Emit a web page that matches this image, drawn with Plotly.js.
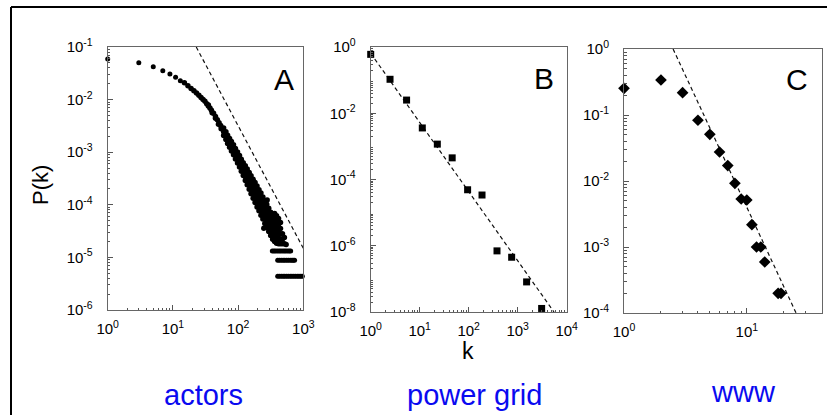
<!DOCTYPE html>
<html><head><meta charset="utf-8">
<script src="https://cdn.plot.ly/plotly-3.0.1.min.js"></script>
<style>html,body{margin:0;padding:0;background:#fff}#chart{width:827px;height:415px}</style>
</head><body><div id="chart"></div><script>
// ---------- Panel A : actors ----------
const actorsHeadK = [1,3,5,7,9,11,13];
const actorsHeadP = [0.0592,0.0503,0.0422,0.0354,0.0307,0.0266,0.0229];
const actorsBandK = [15,17,19,21,23,25,27,29,31,33,35,37,39,42,45,48,51,54,57];
const actorsBandP = [0.0208,0.01832,0.01629,0.01472,0.0134,0.01213,0.01102,0.01009,0.00927,0.00836,0.00757,0.00689,0.00628,0.00553,0.00478,0.00415,0.00364,0.00321,0.00281];
const actorsThickK = [35,40,45,50,55,
  60,60,60,65,65,65,69,69,69,74,74,74,79,79,79,85,85,85,91,91,91,98,98,98,105,105,105,112,112,112,120,120,120,
  129,129,129,129,129,138,138,138,138,138,148,148,148,148,148,158,158,158,158,158,170,170,170,170,170,
  182,182,182,182,182,195,195,195,195,195,209,209,209,209,209,224,224,224,224,224,240,240,240,240,240,
  257,257,257,257,257,275,275,275,275,275,295,295,295,295,295,316,316,316,316,316,339,339,339,339,339,
  363,363,363,363,363,389,389,389,389,389,417,417,417,417,417,447,447,447,447,479,479,479,513,513,
  248,279,363,389,417,447,545];
const actorsThickP = [0.0079,0.0056,0.0044,0.0034,0.0028,
  2.88e-3,2.45e-3,2.08e-3,2.46e-3,2.07e-3,1.74e-3,2.11e-3,1.75e-3,1.46e-3,1.83e-3,1.51e-3,1.24e-3,1.59e-3,1.29e-3,1.05e-3,
  1.38e-3,1.11e-3,8.93e-4,1.18e-3,9.4e-4,7.46e-4,1.01e-3,7.94e-4,6.24e-4,8.65e-4,6.71e-4,5.21e-4,7.38e-4,5.66e-4,4.35e-4,6.3e-4,4.78e-4,3.62e-4,
  5.55e-4,4.72e-4,4.02e-4,3.42e-4,2.91e-4,4.79e-4,4.03e-4,3.39e-4,2.85e-4,2.4e-4,4.12e-4,3.43e-4,2.85e-4,2.37e-4,1.97e-4,
  3.55e-4,2.92e-4,2.4e-4,1.97e-4,1.62e-4,3.05e-4,2.48e-4,2.02e-4,1.64e-4,1.33e-4,
  2.64e-4,2.12e-4,1.7e-4,1.37e-4,1.1e-4,2.28e-4,1.81e-4,1.44e-4,1.14e-4,9.08e-5,1.93e-4,1.53e-4,1.22e-4,9.66e-5,7.67e-5,
  1.67e-4,1.31e-4,1.03e-4,8.09e-5,6.35e-5,1.41e-4,1.1e-4,8.67e-5,6.81e-5,5.35e-5,
  1.21e-4,9.42e-5,7.31e-5,5.68e-5,4.41e-5,1.02e-4,7.93e-5,6.15e-5,4.78e-5,3.71e-5,8.59e-5,6.67e-5,5.18e-5,4.02e-5,3.12e-5,
  7.23e-5,5.61e-5,4.36e-5,3.38e-5,2.62e-5,6.08e-5,4.72e-5,3.66e-5,2.84e-5,2.21e-5,
  5.13e-5,4.07e-5,3.16e-5,2.51e-5,2.0e-5,4.68e-5,3.72e-5,2.95e-5,2.34e-5,1.86e-5,4.27e-5,3.39e-5,2.69e-5,2.24e-5,1.82e-5,
  3.55e-5,2.82e-5,2.24e-5,1.82e-5,2.82e-5,2.24e-5,1.82e-5,2.4e-5,1.82e-5,
  3.6e-5,1.23e-4,6.8e-5,6.2e-5,5.5e-5,4.6e-5,1.76e-5];
const actorsRowK = [335,355,375,400,425,450,480,510,540,575,610,640,
  405,430,460,490,520,555,590,630,670,700,735,
  405,430,460,490,520,555,590,630,670,715,760,810,860,915,965];
const actorsRowP = [1.32e-5,1.32e-5,1.32e-5,1.32e-5,1.32e-5,1.32e-5,1.32e-5,1.32e-5,1.32e-5,1.32e-5,1.32e-5,1.32e-5,
  8.8e-6,8.8e-6,8.8e-6,8.8e-6,8.8e-6,8.8e-6,8.8e-6,8.8e-6,8.8e-6,8.8e-6,8.8e-6,
  4.4e-6,4.4e-6,4.4e-6,4.4e-6,4.4e-6,4.4e-6,4.4e-6,4.4e-6,4.4e-6,4.4e-6,4.4e-6,4.4e-6,4.4e-6,4.4e-6,4.4e-6];
const actorsFitK = [22.8, 1000];
const actorsFitP = [0.1, 1.49e-5];

// ---------- Panel B : power grid ----------
const gridK = [1,2.48,5.4,11.3,22.9,46,95,187,378,753,1520,3080];
const gridP = [0.60,0.106,0.025,0.0036,0.00117,0.00045,4.9e-5,3.4e-5,7.0e-7,4.5e-7,8.1e-8,1.28e-8];
const gridFitK = [1, 5500];
const gridFitP = [0.645, 1e-8];

// ---------- Panel C : www ----------
const wwwK = [1,2,3,4,5,6,7,8,9,10,11,12,13,14,18,19];
const wwwP = [0.254,0.339,0.218,0.0832,0.051,0.0275,0.0171,0.00923,0.00534,0.00515,0.00218,0.001,0.001,0.000593,0.000199,0.000199];
const wwwFitK = [2.51, 25.2];
const wwwFitP = [1, 1e-4];

// tick labels
const xTicksA = [1,10,100,1000], xTextA = ['10<sup>0</sup>','10<sup>1</sup>','10<sup>2</sup>','10<sup>3</sup>'];
const yTicksA = [1e-6,1e-5,1e-4,1e-3,1e-2,1e-1], yTextA = ['10<sup>-6</sup>','10<sup>-5</sup>','10<sup>-4</sup>','10<sup>-3</sup>','10<sup>-2</sup>','10<sup>-1</sup>'];
const xTicksB = [1,10,100,1000,10000], xTextB = ['10<sup>0</sup>','10<sup>1</sup>','10<sup>2</sup>','10<sup>3</sup>','10<sup>4</sup>'];
const yTicksB = [1e-8,1e-6,1e-4,1e-2,1], yTextB = ['10<sup>-8</sup>','10<sup>-6</sup>','10<sup>-4</sup>','10<sup>-2</sup>','10<sup>0</sup>'];
const xTicksC = [1,10], xTextC = ['10<sup>0</sup>','10<sup>1</sup>'];
const yTicksC = [1e-4,1e-3,1e-2,1e-1,1], yTextC = ['10<sup>-4</sup>','10<sup>-3</sup>','10<sup>-2</sup>','10<sup>-1</sup>','10<sup>0</sup>'];

function minorVals(lo, hi) { // minor tick positions 2..9 in each decade
  const v = [];
  for (let e = lo; e < hi; e++) for (let m = 2; m <= 9; m++) v.push(m * Math.pow(10, e));
  return v;
}

const W = 827, H = 415;
const px = x => x / W, py = y => 1 - y / H;
const tickFont = {family: 'Liberation Sans, Arial, sans-serif', size: 15, color: '#000'};

function axis(dom, range, tv, tt, minor, isY) {
  return {
    type: 'log', domain: dom, range: range, autorange: false,
    showline: true, mirror: true, linecolor: '#666', linewidth: 1,
    ticks: 'inside', ticklen: 5, tickcolor: '#555', tickwidth: 1,
    showgrid: false, zeroline: false, fixedrange: true,
    tickmode: 'array', tickvals: tv, ticktext: tt, tickfont: tickFont,
    ticklabelstandoff: isY ? 11 : 5,
    minor: {tickmode: 'array', tickvals: minor, ticks: 'inside', ticklen: 2.5, tickcolor: '#555', tickwidth: 1, showgrid: false}
  };
}

const mk = (x, y, xa, ya, sym, size) => ({
  x: x, y: y, xaxis: xa, yaxis: ya, type: 'scatter', mode: 'markers', cliponaxis: false,
  marker: {symbol: sym, size: size, color: '#000', line: {width: 0}}, hoverinfo: 'skip'
});
const fit = (x, y, xa, ya) => ({
  x: x, y: y, xaxis: xa, yaxis: ya, type: 'scatter', mode: 'lines',
  line: {color: '#111', width: 1.2, dash: '4px,3px'}, hoverinfo: 'skip'
});

const data = [
  fit(actorsFitK, actorsFitP, 'x', 'y'),
  mk(actorsHeadK, actorsHeadP, 'x', 'y', 'circle', 5),
  mk(actorsBandK, actorsBandP, 'x', 'y', 'circle', 5.5),
  mk(actorsThickK, actorsThickP, 'x', 'y', 'circle', 5.5),
  mk(actorsRowK, actorsRowP, 'x', 'y', 'circle', 5),
  fit(gridFitK, gridFitP, 'x2', 'y2'),
  mk(gridK, gridP, 'x2', 'y2', 'square', 7),
  fit(wwwFitK, wwwFitP, 'x3', 'y3'),
  mk(wwwK, wwwP, 'x3', 'y3', 'diamond', 9)
];

const ann = (t, x, y, size, color, extra) => Object.assign({
  text: t, x: px(x), y: py(y), xref: 'paper', yref: 'paper', showarrow: false,
  xanchor: 'center', yanchor: 'middle',
  font: {family: 'Liberation Sans, Arial, sans-serif', size: size, color: color}
}, extra || {});

const layout = {
  width: W, height: H, margin: {l: 0, r: 0, t: 0, b: 0},
  paper_bgcolor: '#fff', plot_bgcolor: '#fff', showlegend: false,
  xaxis: axis([px(107.7), px(303.3)], [0, 3], xTicksA, xTextA, minorVals(0, 3), false),
  yaxis: Object.assign(axis([py(310), py(47)], [-6, -1], yTicksA, yTextA, minorVals(-6, -1), true), {anchor: 'x'}),
  xaxis2: Object.assign(axis([px(370.7), px(566.7)], [0, 4], xTicksB, xTextB, minorVals(0, 4), false), {anchor: 'y2'}),
  yaxis2: Object.assign(axis([py(312), py(47)], [-8, 0], yTicksB, yTextB, minorVals(-8, 0), true), {anchor: 'x2'}),
  xaxis3: Object.assign(axis([px(624), px(821.7)], [0, 1.61], xTicksC, xTextC, minorVals(0, 2), false), {anchor: 'y3'}),
  yaxis3: Object.assign(axis([py(313), py(49)], [-4, 0], yTicksC, yTextC, minorVals(-4, 0), true), {anchor: 'x3'}),
  annotations: [
    ann('A', 284, 79, 30, '#000'),
    ann('B', 544, 78, 30, '#000'),
    ann('C', 797, 79, 30, '#000'),
    ann('P(k)', 40, 185, 22, '#000', {textangle: -90}),
    ann('k', 468, 351, 23, '#000'),
    ann('actors', 203, 395, 29, 'rgb(10,10,240)'),
    ann('power grid', 474, 395, 29, 'rgb(10,10,240)'),
    ann('www', 743, 392, 29, 'rgb(10,10,240)')
  ],
  shapes: [
    {type: 'line', xref: 'paper', yref: 'paper', x0: px(11), x1: 1, y0: py(7), y1: py(7), line: {color: '#000', width: 2}},
    {type: 'line', xref: 'paper', yref: 'paper', x0: px(11), x1: px(11), y0: py(7), y1: 0, line: {color: '#000', width: 2}}
  ]
};

Plotly.newPlot('chart', data, layout, {staticPlot: true, displayModeBar: false});
</script></body></html>
